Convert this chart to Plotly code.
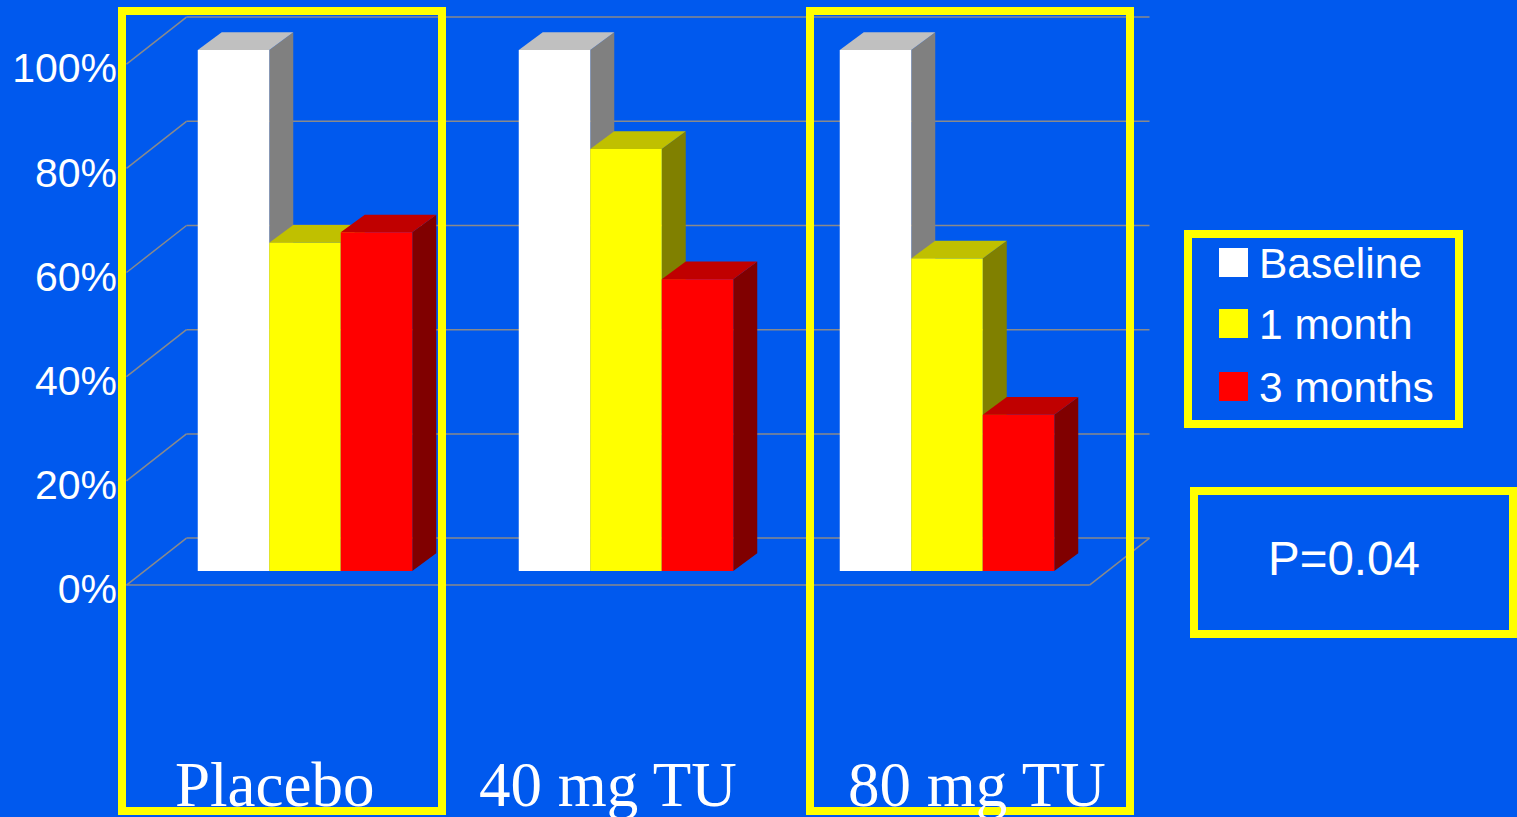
import plotly.graph_objects as go

# ---------------- data ----------------
categories = ["Placebo", "40 mg TU", "80 mg TU"]
series_names = ["Baseline", "1 month", "3 months"]
baseline = [100, 100, 100]
one_month = [63, 81, 60]
three_months = [65, 56, 30]
y_ticks = [0, 20, 40, 60, 80, 100]
y_tick_labels = [f"{t}%" for t in y_ticks]
p_value_text = "P=0.04"

series_values = [baseline, one_month, three_months]

# ---------------- style / geometry ----------------
W, H = 1517, 817
BG = "#0059ee"
YELLOW = "#ffff00"
GRID = "#8a8a8a"
front_cols = ["#ffffff", "#ffff00", "#ff0000"]
top_cols = ["#c0c0c0", "#c0c000", "#c00000"]
side_cols = ["#808080", "#808000", "#800000"]

PX_PER_GROUP = 321.0   # horizontal pixels per category
X0_PX = 305.0          # pixel x of category 0 centre
PX_PER_PCT = 5.21      # vertical pixels per percent
Y0_PX = 571.0          # pixel y of 0 % on the bar front plane

x_range = [-X0_PX / PX_PER_GROUP, (W - X0_PX) / PX_PER_GROUP]
y_range = [-(H - Y0_PX) / PX_PER_PCT, Y0_PX / PX_PER_PCT]

BAR_W = 71.5 / PX_PER_GROUP
BAR_DX = 24.0 / PX_PER_GROUP
BAR_DY = 17.7 / PX_PER_PCT

# frame depth (oblique projection), bar front plane at depth 0.3
WALL_DX_PX, WALL_DY_PX, BAR_DEPTH = 60.0, 47.0, 0.3


def proj(x, v, d):
    return (x + (d - BAR_DEPTH) * WALL_DX_PX / PX_PER_GROUP,
            v + (d - BAR_DEPTH) * WALL_DY_PX / PX_PER_PCT)


def pxx(x):
    return x / W


def pxy(y):
    return 1 - y / H


def path(pts):
    return "M " + " L ".join(f"{x},{y}" for x, y in pts) + " Z"


fig = go.Figure()

# front faces of bars
for i, (name, vals) in enumerate(zip(series_names, series_values)):
    fig.add_trace(go.Bar(
        x=list(range(len(categories))), y=vals, name=name,
        width=BAR_W, offset=(i - 1.5) * BAR_W,
        marker=dict(color=front_cols[i], line=dict(width=0)),
        customdata=categories,
        hovertemplate="%{customdata}<br>" + name + ": %{y}%<extra></extra>",
        showlegend=False,
    ))

shapes = []
# frame: left wall and back wall grid lines
x_left, x_right = -0.5, len(categories) - 0.5
for t in y_ticks:
    a = proj(x_left, t, 0)
    b = proj(x_left, t, 1)
    c = proj(x_right, t, 1)
    shapes.append(dict(type="line", xref="x", yref="y", x0=a[0], y0=a[1], x1=b[0], y1=b[1],
                       line=dict(color=GRID, width=1.5), layer="below"))
    shapes.append(dict(type="line", xref="x", yref="y", x0=b[0], y0=b[1], x1=c[0], y1=c[1],
                       line=dict(color=GRID, width=1.5), layer="below"))
# floor front and right edges
fa = proj(x_left, 0, 0)
fb = proj(x_right, 0, 0)
fc = proj(x_right, 0, 1)
shapes.append(dict(type="line", xref="x", yref="y", x0=fa[0], y0=fa[1], x1=fb[0], y1=fb[1],
                   line=dict(color=GRID, width=1.5), layer="below"))
shapes.append(dict(type="line", xref="x", yref="y", x0=fb[0], y0=fb[1], x1=fc[0], y1=fc[1],
                   line=dict(color=GRID, width=1.5), layer="below"))

# side and top faces of bars (left to right)
for g in range(len(categories)):
    for i, vals in enumerate(series_values):
        v = vals[g]
        x0 = g + (i - 1.5) * BAR_W
        x1 = x0 + BAR_W
        side = [(x1, 0), (x1, v), (x1 + BAR_DX, v + BAR_DY), (x1 + BAR_DX, BAR_DY)]
        top = [(x0, v), (x1, v), (x1 + BAR_DX, v + BAR_DY), (x0 + BAR_DX, v + BAR_DY)]
        shapes.append(dict(type="path", xref="x", yref="y", path=path(side),
                           fillcolor=side_cols[i], line=dict(width=0), layer="below"))
        shapes.append(dict(type="path", xref="x", yref="y", path=path(top),
                           fillcolor=top_cols[i], line=dict(width=0), layer="below"))

# highlight boxes around Placebo and 80 mg groups
for (bx0, bx1) in [(122, 442), (810, 1130)]:
    shapes.append(dict(type="rect", xref="paper", yref="paper",
                       x0=pxx(bx0), x1=pxx(bx1), y0=pxy(11), y1=pxy(811),
                       line=dict(color=YELLOW, width=8), layer="above"))

# legend box
shapes.append(dict(type="rect", xref="paper", yref="paper",
                   x0=pxx(1188), x1=pxx(1459), y0=pxy(234), y1=pxy(424),
                   line=dict(color=YELLOW, width=8), layer="above"))
row_centres = [262.5, 323.5, 386.5]
annotations = []
for i, name in enumerate(series_names):
    rc = row_centres[i]
    shapes.append(dict(type="rect", xref="paper", yref="paper",
                       x0=pxx(1219), x1=pxx(1248), y0=pxy(rc - 14.5), y1=pxy(rc + 14.5),
                       fillcolor=front_cols[i], line=dict(width=0), layer="above"))
    annotations.append(dict(xref="paper", yref="paper", x=pxx(1257), y=pxy(rc + 1),
                            xanchor="left", yanchor="middle", showarrow=False, text=name,
                            font=dict(family="Liberation Sans, Arial", size=42.5, color="white")))

# p-value box
shapes.append(dict(type="rect", xref="paper", yref="paper",
                   x0=pxx(1194), x1=pxx(1513), y0=pxy(491), y1=pxy(634),
                   line=dict(color=YELLOW, width=8), layer="above"))
annotations.append(dict(xref="paper", yref="paper", x=pxx(1344), y=pxy(558),
                        xanchor="center", yanchor="middle", showarrow=False, text=p_value_text,
                        font=dict(family="Liberation Sans, Arial", size=47.5, color="white")))

# category labels
label_centres = [274, 608, 977]
for i, cat in enumerate(categories):
    annotations.append(dict(xref="paper", yref="paper", x=pxx(label_centres[i]), y=pxy(785),
                            xanchor="center", yanchor="middle", showarrow=False, text=cat,
                            font=dict(family="Liberation Serif, Times New Roman, serif",
                                      size=63, color="white")))

front_offset = proj(0, 0, 0)[1]

fig.update_layout(
    width=W, height=H,
    margin=dict(l=0, r=0, t=0, b=0),
    paper_bgcolor=BG, plot_bgcolor=BG,
    barmode="overlay",
    showlegend=False,
    xaxis=dict(range=x_range, visible=False, fixedrange=True),
    yaxis=dict(range=y_range, tickvals=[t + front_offset for t in y_ticks],
               ticktext=y_tick_labels, showgrid=False, zeroline=False, showline=False,
               ticks="", anchor="free", position=pxx(117), fixedrange=True,
               ticklabelshift=4,
               tickfont=dict(family="Liberation Sans, Arial", size=41, color="white")),
    shapes=shapes,
    annotations=annotations,
)

fig.write_html(
    "out.html",
    config={"displayModeBar": False},
    post_script="document.body.style.margin='0';document.body.style.background='" + BG + "';",
)
